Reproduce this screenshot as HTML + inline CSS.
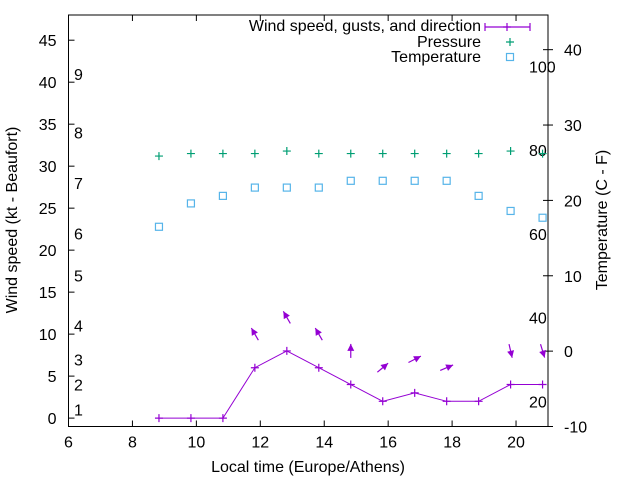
<!DOCTYPE html>
<html><head><meta charset="utf-8">
<style>
html,body{margin:0;padding:0;background:#fff;}
svg{display:block;font-family:"Liberation Sans",Arial,sans-serif;}
text{fill:#000;font-size:16px;}
</style></head>
<body>
<svg id="chart" width="640" height="480" viewBox="0 0 640 480" xmlns="http://www.w3.org/2000/svg">
<g id="axes"></g>
<g id="marks"></g>
<g id="legend"></g>
<text x="308" y="472" text-anchor="middle">Local time (Europe/Athens)</text>
<text transform="translate(17,220) rotate(-90)" text-anchor="middle">Wind speed (kt - Beaufort)</text>
<text transform="translate(607,220) rotate(-90)" text-anchor="middle">Temperature (C - F)</text>
</svg>
<script>
const times = [8.83,9.83,10.83,11.83,12.83,13.83,14.83,15.83,16.83,17.83,18.83,19.83,20.83];
const windSpeed = [0,0,0,6,8,6,4,2,3,2,2,4,4];
const windDirTimes = [11.83,12.83,13.83,14.83,15.83,16.83,17.83,19.83,20.83];
const windDirSpeed = [6,8,6,4,2,3,2,4,4];
const windDirAngle = [330,330,330,0,50,63,67,167,163];
const pressure = [31.2,31.5,31.5,31.5,31.8,31.5,31.5,31.5,31.5,31.5,31.5,31.8,31.5];
const temperature = [16.5,19.6,20.6,21.7,21.7,21.7,22.6,22.6,22.6,22.6,20.6,18.6,17.7];
const xTicks = [6,8,10,12,14,16,18,20];
const yTicks = [0,5,10,15,20,25,30,35,40,45];
const y2Ticks = [-10,0,10,20,30,40];
const beaufortKt = [1,4,7,11,17,22,28,34,41];
const beaufortLabels = ["1","2","3","4","5","6","7","8","9"];
const fahrenheit = [20,40,60,80,100];

const L=68.5,R=548,T=15,B=426.5;
const X=v=>L+(v-6)/(21-6)*(R-L);
const Y=v=>B-(v-(-1))/(48-(-1))*(B-T);
const Y2=v=>B-(v-(-10))/(44.6-(-10))*(B-T);
const NS="http://www.w3.org/2000/svg";
function mk(tag,attrs,parent,txt){const e=document.createElementNS(NS,tag);for(const k in attrs)e.setAttribute(k,attrs[k]);if(txt!==undefined)e.textContent=txt;parent.appendChild(e);return e;}
const ax=document.getElementById('axes'),mg=document.getElementById('marks'),lg=document.getElementById('legend');

let fr=mk('rect',{x:L,y:T,width:R-L,height:B-T,fill:'none',stroke:'#000','stroke-width':1},ax);


xTicks.forEach(v=>{
 let t=mk('line',{x1:X(v),x2:X(v),y1:B,y2:B-6,stroke:'#000'},ax);
 
 
 let t2=mk('line',{x1:X(v),x2:X(v),y1:T,y2:T+6,stroke:'#000'},ax);
 
 
 let l=mk('text',{x:X(v),y:B+21,'text-anchor':'middle'},ax,String(v));
 
 
});
yTicks.forEach(v=>{
 let t=mk('line',{x1:L,x2:L+6,y1:Y(v),y2:Y(v),stroke:'#000'},ax);
 
 
 let l=mk('text',{x:L-12,y:Y(v)+6,'text-anchor':'end'},ax,String(v));
 
 
});
y2Ticks.forEach(v=>{
 let t=mk('line',{x1:R-5,x2:R+5,y1:Y2(v),y2:Y2(v),stroke:'#000'},ax);
 
 
 let l=mk('text',{x:R+16,y:Y2(v)+6,'text-anchor':'start'},ax,String(v));
 
 
});
beaufortKt.forEach((v,i)=>{
 let l=mk('text',{x:74,y:Y(v)+6},ax,beaufortLabels[i]);
 
 
});
fahrenheit.forEach(f=>{
 let l=mk('text',{x:529,y:Y2((f-32)*5/9)+6},ax,String(f));
 
 
});

const purple='#9400d3',green='#009e73',cyan='#56b4e9';
function plus(x,y,c,g,name){
 let p=mk('path',{d:`M${x-4},${y}H${x+4}M${x},${y-4}V${y+4}`,stroke:c,'stroke-width':1.2,fill:'none'},g);
 
 
}
let pts=times.map((t,i)=>X(t)+','+Y(windSpeed[i])).join(' ');
let wl=mk('polyline',{points:pts,fill:'none',stroke:purple,'stroke-width':1},mg);


times.forEach((t,i)=>plus(X(t),Y(windSpeed[i]),purple,mg,'wind-speed-point'));
windDirTimes.forEach((t,i)=>{
 const cx=X(t),cy=Y(windDirSpeed[i]+4),a=windDirAngle[i]*Math.PI/180,len=14;
 const dx=Math.sin(a)*len/2,dy=-Math.cos(a)*len/2;
 const hx=cx+dx,hy=cy+dy,tx=cx-dx,ty=cy-dy;
 const ux=dx/(len/2),uy=dy/(len/2);
 const bx=hx-ux*7,by=hy-uy*7;
 const g=mk('g',{},mg);
 
 
 mk('line',{x1:tx,y1:ty,x2:hx,y2:hy,stroke:purple,'stroke-width':1.2},g);
 mk('polygon',{points:`${hx},${hy} ${bx-uy*3.5},${by+ux*3.5} ${bx+uy*3.5},${by-ux*3.5}`,fill:purple},g);
});
times.forEach((t,i)=>plus(X(t),Y(pressure[i]),green,mg,'pressure-point'));
times.forEach((t,i)=>{
 let r=mk('rect',{x:X(t)-3.5,y:Y2(temperature[i])-3.5,width:7,height:7,fill:'none',stroke:cyan,'stroke-width':1.2},mg);
 
 
});
const lt=[["Wind speed, gusts, and direction",31],["Pressure",47],["Temperature",62]];
lt.forEach(([s,y])=>{let e=mk('text',{x:481,y:y,'text-anchor':'end'},lg,s);
 
 });
let ls=mk('path',{d:'M485,27H530M485,23V31M530,23V31',stroke:purple,'stroke-width':1.2,fill:'none'},lg);


plus(507,27,purple,lg,'legend-wind-marker');
plus(510,42,green,lg,'legend-pressure-marker');
let lsq=mk('rect',{x:506.5,y:53.5,width:7,height:7,fill:'none',stroke:cyan,'stroke-width':1.2},lg);


</script>
</body></html>
